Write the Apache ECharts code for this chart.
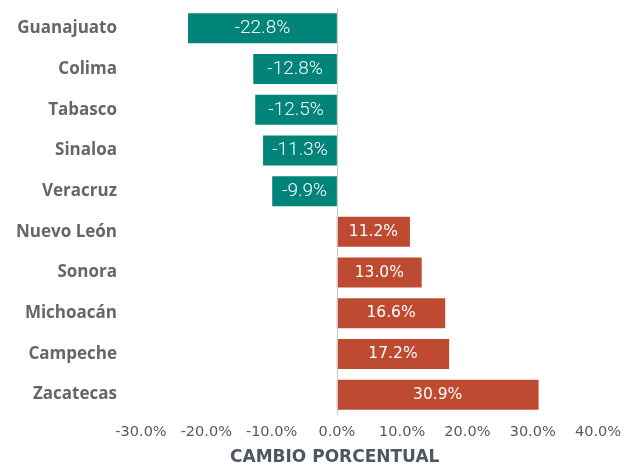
<!DOCTYPE html>
<html>
<head>
<meta charset="utf-8">
<script src="https://cdn.jsdelivr.net/npm/echarts@6/dist/echarts.min.js"></script>
<style>
  html, body { margin: 0; padding: 0; background: #ffffff; }
  #chart { width: 624px; height: 467px; }
</style>
</head>
<body>
<div id="chart"></div>
<script>
// States, top to bottom
const states = ['Guanajuato', 'Colima', 'Tabasco', 'Sinaloa', 'Veracruz',
                'Nuevo León', 'Sonora', 'Michoacán', 'Campeche', 'Zacatecas'];
// Percent change per state
const changes = [-22.8, -12.8, -12.5, -11.3, -9.9, 11.2, 13.0, 16.6, 17.2, 30.9];
// Value axis range and step (percent)
const axisMin = -30;
const axisMax = 40;
const axisStep = 10;

const TEAL = '#00847a';
const RUST = '#be4b31';

const fmt = v => v.toFixed(1) + '%';

const negLabel = {
  show: true, position: 'inside', color: '#ffffff',
  fontFamily: 'Roboto', fontWeight: 300, fontSize: 19,
  formatter: p => fmt(p.value)
};
const posLabel = {
  show: true, position: 'inside', color: '#ffffff',
  fontFamily: 'DejaVu Sans', fontSize: 15.5,
  formatter: p => fmt(p.value)
};

const barData = changes.map(v => ({
  value: v,
  itemStyle: { color: v < 0 ? TEAL : RUST },
  label: v < 0 ? negLabel : posLabel
}));

const chart = echarts.init(document.getElementById('chart'), null, { renderer: 'canvas' });

chart.setOption({
  animation: false,
  backgroundColor: '#ffffff',
  grid: { left: 141, right: 24, top: 8, bottom: 52, containLabel: false },
  xAxis: {
    type: 'value',
    min: axisMin, max: axisMax, interval: axisStep,
    axisLine: { show: false },
    axisTick: { show: false },
    splitLine: { show: false },
    axisLabel: {
      color: '#595959', fontFamily: 'DejaVu Sans', fontSize: 14.5, margin: 10,
      formatter: v => fmt(v)
    }
  },
  yAxis: {
    type: 'category',
    data: states,
    inverse: true,
    axisLine: { show: false },
    axisTick: { show: false },
    axisLabel: {
      color: '#666666', fontFamily: 'Open Sans', fontWeight: 'bold', fontSize: 17,
      margin: 24
    }
  },
  graphic: [{
    type: 'text',
    left: 230, top: 449,
    style: {
      text: 'CAMBIO PORCENTUAL',
      fill: '#4e5563',
      font: 'bold 17px "DejaVu Sans"'
    }
  }],
  series: [{
    type: 'bar',
    barWidth: 30,
    data: barData,
    markLine: {
      silent: true,
      symbol: ['none', 'none'],
      label: { show: false },
      lineStyle: { color: '#c8c8c8', width: 1, type: 'solid' },
      data: [{ xAxis: 0 }]
    }
  }]
});
</script>
</body>
</html>
